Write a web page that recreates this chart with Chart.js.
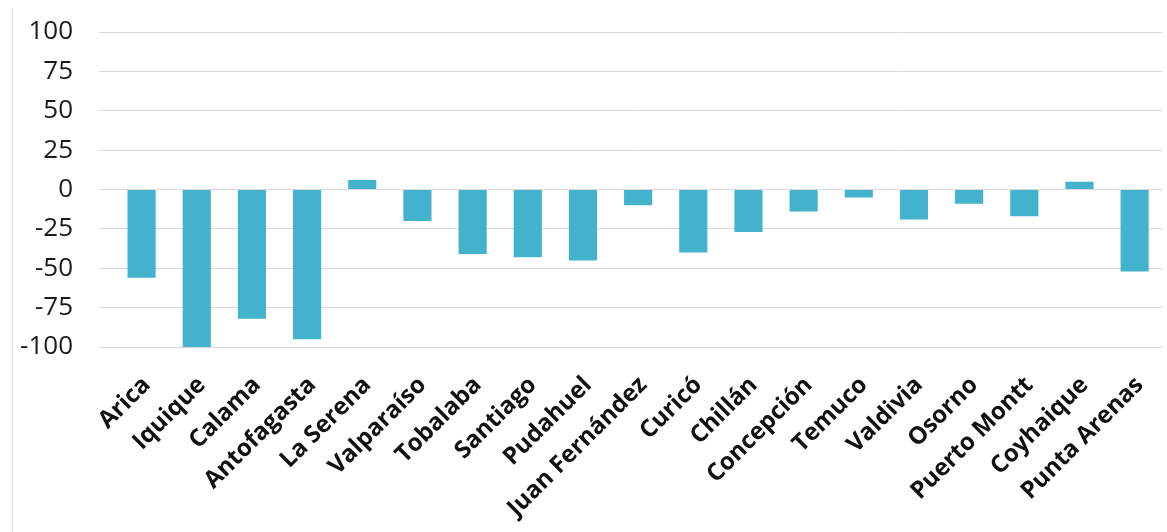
<!DOCTYPE html>
<html lang="es">
<head>
  <meta charset="UTF-8">
  <title>Variación por estación</title>
  <style>
    body {
      margin: 0;
      background: #fff;
      overflow: hidden;
    }
    .frame {
      position: absolute;
      left: 12px;
      top: 8px;
      bottom: 0;
      border-left: 1px solid #e6e6e6;
    }
    .wrap {
      position: relative;
      width: 1171px;
      height: 532px;
    }
  </style>
  <script src="https://cdn.jsdelivr.net/npm/chart.js"></script>
</head>
<body>
  <div class="frame"></div>
  <div class="wrap">
    <canvas id="chart"></canvas>
  </div>

  <script>
    const estaciones = ['Arica', 'Iquique', 'Calama', 'Antofagasta', 'La Serena', 'Valparaíso',
      'Tobalaba', 'Santiago', 'Pudahuel', 'Juan Fernández', 'Curicó', 'Chillán', 'Concepción',
      'Temuco', 'Valdivia', 'Osorno', 'Puerto Montt', 'Coyhaique', 'Punta Arenas'];
    const valores = [-56, -100, -82, -95, 6, -20, -41, -43, -45, -10, -40, -27, -14, -5, -19, -9, -17, 5, -52];
    const ticksY = [100, 75, 50, 25, 0, -25, -50, -75, -100];

    const ctx = document.getElementById('chart').getContext('2d');
    new Chart(ctx, {
      type: 'bar',
      data: {
        labels: estaciones,
        datasets: [{
          data: valores,
          backgroundColor: '#43b2cc',
          categoryPercentage: 1,
          barPercentage: 0.51
        }]
      },
      options: {
        responsive: true,
        maintainAspectRatio: false,
        animation: false,
        layout: { padding: { top: 32, left: 0, right: 0, bottom: 0 } },
        plugins: {
          legend: { display: false },
          tooltip: { enabled: false }
        },
        scales: {
          x: {
            grid: { display: false },
            border: { display: false },
            ticks: {
              minRotation: 45,
              maxRotation: 45,
              autoSkip: false,
              padding: 16,
              labelOffset: 5,
              color: '#111',
              font: { family: 'Open Sans', size: 24, weight: 'bold' }
            },
            afterFit: function (scale) { scale.height = 185; }
          },
          y: {
            min: -100,
            max: 100,
            afterBuildTicks: function (scale) {
              scale.ticks = ticksY.map(v => ({ value: v }));
            },
            grid: { color: '#d9d9d9', lineWidth: 1, tickLength: 15, tickColor: '#d9d9d9' },
            border: { display: false },
            ticks: {
              padding: 26,
              color: '#1a1a1a',
              font: { family: 'Open Sans', size: 26 }
            },
            // tick padding would otherwise push the plot area down
            afterFit: function (scale) {
              scale.width = 114;
              scale.paddingTop = 16;
              scale.paddingBottom = 16;
            }
          }
        }
      }
    });
  </script>
</body>
</html>
